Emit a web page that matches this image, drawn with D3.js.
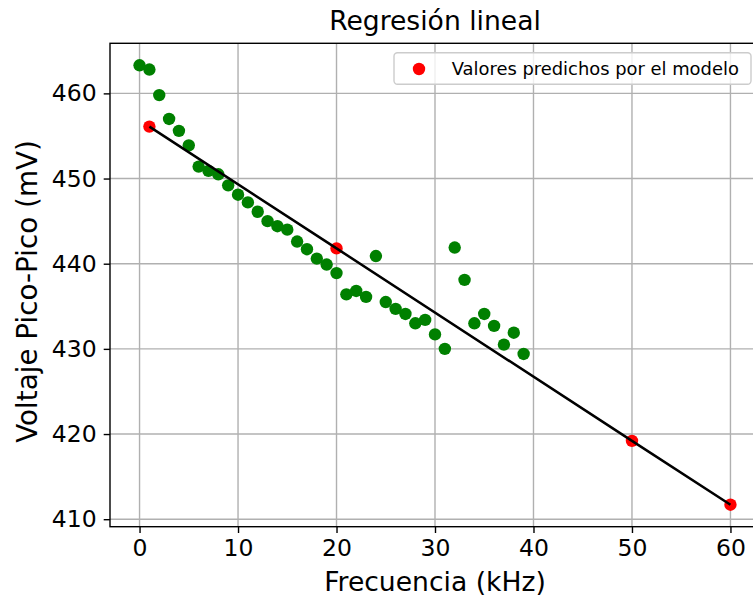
<!DOCTYPE html>
<html>
<head>
<meta charset="utf-8">
<script src="https://cdn.jsdelivr.net/npm/d3@7"></script>
<style>
  body { margin: 0; background: #FFFFFF; }
  svg { display: block; font-family: "DejaVu Sans", sans-serif; }
</style>
</head>
<body>
<svg></svg>
<script>
//--Data
const freq = [0, 1, 2, 3, 4, 5, 6, 7, 8, 9, 10, 11, 12, 13, 14, 15, 16, 17, 18, 19,
              20, 21, 22, 23, 24, 25, 26, 27, 28, 29, 30, 31, 32, 33, 34, 35, 36, 37, 38, 39];
const voltage = [463.3, 462.8, 459.8, 457.0, 455.6, 453.9, 451.4, 450.9, 450.5, 449.2,
                 448.1, 447.2, 446.1, 445.0, 444.4, 444.0, 442.6, 441.7, 440.6, 439.9,
                 438.9, 436.4, 436.8, 436.1, 440.9, 435.5, 434.7, 434.1, 433.0, 433.4,
                 431.7, 430.0, 441.9, 438.1, 433.0, 434.1, 432.7, 430.5, 431.9, 429.4];
const predFreq = [1, 20, 50, 60];
const predVoltage = [456.1, 441.8, 419.2, 411.7];
const xTicks = [0, 10, 20, 30, 40, 50, 60];
const yTicks = [410, 420, 430, 440, 450, 460];

const title = "Regresión lineal";
const xLabel = "Frecuencia (kHz)";
const yLabel = "Voltaje Pico-Pico (mV)";
const legendLabel = "Valores predichos por el modelo";

//--Canvas
var canvas = {
  width: 753,
  height: 599,
  left: 110,
  right: 760,
  top: 43.3,
  bottom: 526.7,
  grid: "#b0b0b0",
  green: "#008000",
  red: "#ff0000"
};

let root = d3.select("svg")
  .attr("width", canvas.width)
  .attr("height", canvas.height);

//--Scales (matplotlib style 5% margins)
let xs = freq.concat(predFreq);
let ys = voltage.concat(predVoltage);
let [x0, x1] = d3.extent(xs);
let [y0, y1] = d3.extent(ys);
let scale_x = d3.scaleLinear()
  .domain([x0 - (x1 - x0) * 0.05, x1 + (x1 - x0) * 0.05])
  .range([canvas.left, canvas.right]);
let scale_y = d3.scaleLinear()
  .domain([y0 - (y1 - y0) * 0.05, y1 + (y1 - y0) * 0.05])
  .range([canvas.bottom, canvas.top]);

//--Grid
let grid = root.append("g").attr("stroke", canvas.grid).attr("stroke-width", 1.4);
grid.selectAll(".gx")
  .data(xTicks)
  .enter()
  .append("line")
  .attr("x1", d => scale_x(d)).attr("x2", d => scale_x(d))
  .attr("y1", canvas.top).attr("y2", canvas.bottom);
grid.selectAll(".gy")
  .data(yTicks)
  .enter()
  .append("line")
  .attr("y1", d => scale_y(d)).attr("y2", d => scale_y(d))
  .attr("x1", canvas.left).attr("x2", canvas.right);

//--Axes
let xAxis = d3.axisBottom(scale_x).tickValues(xTicks).tickSize(6.3).tickPadding(6);
let yAxis = d3.axisLeft(scale_y).tickValues(yTicks).tickSize(6.3).tickPadding(7);
root.append("g")
  .attr("transform", "translate(0," + canvas.bottom + ")")
  .call(xAxis)
  .call(g => g.select(".domain").remove());
root.append("g")
  .attr("transform", "translate(" + canvas.left + ",0)")
  .call(yAxis)
  .call(g => g.select(".domain").remove());
root.selectAll(".tick line").attr("stroke", "#000").attr("stroke-width", 1.4);
root.selectAll(".tick text")
  .attr("fill", "#000")
  .style("font-family", "DejaVu Sans")
  .style("font-size", "23.5px");

//--Scatter
root.append("g")
  .selectAll("circle")
  .data(freq)
  .enter()
  .append("circle")
  .attr("cx", d => scale_x(d))
  .attr("cy", (d, i) => scale_y(voltage[i]))
  .attr("r", 6.2)
  .style("fill", canvas.green);

root.append("g")
  .selectAll("circle")
  .data(predFreq)
  .enter()
  .append("circle")
  .attr("cx", d => scale_x(d))
  .attr("cy", (d, i) => scale_y(predVoltage[i]))
  .attr("r", 6.2)
  .style("fill", canvas.red);

//--Regression line
let line = d3.line()
  .x(d => scale_x(d))
  .y((d, i) => scale_y(predVoltage[i]));
root.append("path")
  .datum(predFreq)
  .attr("d", line)
  .attr("fill", "none")
  .attr("stroke", "#000")
  .attr("stroke-width", 2.5);

//--Frame
root.append("rect")
  .attr("x", canvas.left)
  .attr("y", canvas.top)
  .attr("width", canvas.right - canvas.left)
  .attr("height", canvas.bottom - canvas.top)
  .attr("fill", "none")
  .attr("stroke", "#000")
  .attr("stroke-width", 1.4);

//--Texts
root.append("text")
  .attr("x", (canvas.left + canvas.right) / 2)
  .attr("y", 30)
  .attr("text-anchor", "middle")
  .style("font-size", "26.6px")
  .text(title);
root.append("text")
  .attr("x", (canvas.left + canvas.right) / 2)
  .attr("y", 591)
  .attr("text-anchor", "middle")
  .style("font-size", "26.6px")
  .text(xLabel);
root.append("text")
  .attr("transform", "translate(36.5,291.5)rotate(-90)")
  .attr("text-anchor", "middle")
  .style("font-size", "27.8px")
  .text(yLabel);

//--Legend
let legend = root.append("g");
legend.append("rect")
  .attr("x", 394)
  .attr("y", 52.7)
  .attr("width", 357)
  .attr("height", 31.5)
  .attr("rx", 3.5)
  .attr("fill", "#FFFFFF")
  .attr("fill-opacity", 0.8)
  .attr("stroke", "#cccccc")
  .attr("stroke-width", 1.4);
legend.append("circle")
  .attr("cx", 419)
  .attr("cy", 69)
  .attr("r", 6.2)
  .style("fill", canvas.red);
legend.append("text")
  .attr("x", 451.7)
  .attr("y", 75.3)
  .style("font-size", "17.9px")
  .attr("fill", "#000")
  .text(legendLabel);
</script>
</body>
</html>
